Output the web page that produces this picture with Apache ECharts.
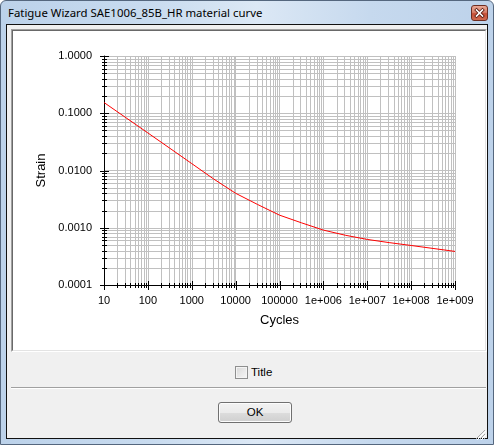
<!DOCTYPE html>
<html><head><meta charset="utf-8">
<script src="https://cdn.jsdelivr.net/npm/echarts@6/dist/echarts.min.js"></script>
<style>
html,body{margin:0;padding:0;width:494px;height:445px;overflow:hidden;background:#fff;}
.abs{position:absolute;box-sizing:border-box;}
#win{left:0;top:0;width:494px;height:445px;border:1px solid #55677e;border-radius:6px 6px 0 0;
 background:linear-gradient(to right,#bcd2ea 0%,#c8dbef 30%,#dce8f5 52%,#c6d9ee 75%,#bdd2ea 100%);}
#title{left:8px;top:4px;font-family:"Noto Sans",sans-serif;font-size:11.4px;line-height:17px;color:#000;white-space:nowrap;}
#close{left:471px;top:5px;width:17px;height:16px;border:1px solid #6e2d21;border-radius:3px;
 background:linear-gradient(#e9a896 0%,#d7816b 45%,#c54e35 55%,#cf6a50 100%);}
#client{left:6px;top:24px;width:482px;height:415px;border:1px solid #111;background:#f0f0f0;}
#panel{left:11px;top:29px;width:476px;height:323px;border-top:1px solid #a0a0a0;border-left:1px solid #a0a0a0;border-right:1px solid #fff;border-bottom:1px solid #fff;}
#panelIn{left:0;top:0;width:100%;height:100%;border-top:1px solid #696969;border-left:1px solid #696969;border-right:1px solid #e3e3e3;border-bottom:1px solid #e3e3e3;background:#fff;}
#sep{left:11px;top:387px;width:475px;height:2px;border-top:1px solid #a0a0a0;border-bottom:1px solid #fff;}
#chk{left:235px;top:366px;width:13px;height:13px;border:1px solid #8e8f8f;background:linear-gradient(135deg,#d8d8d8,#f7f7f7);box-shadow:inset 0 0 0 1px #f4f4f4;}
#chklbl{left:251px;top:365px;font-family:"Liberation Sans",Arial,sans-serif;font-size:11.5px;line-height:14px;color:#000;}
#ok{left:218px;top:402px;width:74px;height:21px;border:1px solid #707070;border-radius:3px;
 background:linear-gradient(#f2f2f2 0%,#ebebeb 50%,#dddddd 50%,#cfcfcf 100%);box-shadow:inset 0 0 0 1px #fcfcfc;
 font-family:"Liberation Sans",Arial,sans-serif;font-size:11.5px;line-height:19px;text-align:center;color:#000;}
#grip{left:474px;top:426px;width:12px;height:12px;}
#chart{left:0;top:0;width:494px;height:445px;}
</style></head>
<body>
<div id="win" class="abs"></div>
<div id="title" class="abs">Fatigue Wizard SAE1006_85B_HR material curve</div>
<div id="close" class="abs"><svg width="15" height="14" style="position:absolute;left:0;top:0"><path d="M4.5 4 L10.5 10 M10.5 4 L4.5 10" stroke="#5a1a10" stroke-width="3.2" stroke-linecap="square"/><path d="M4.5 4 L10.5 10 M10.5 4 L4.5 10" stroke="#fff" stroke-width="1.6" stroke-linecap="square"/></svg></div>
<div id="client" class="abs"></div>
<div id="panel" class="abs"><div id="panelIn" class="abs"></div></div>
<div id="sep" class="abs"></div>
<div id="chk" class="abs"></div>
<div id="chklbl" class="abs">Title</div>
<div id="ok" class="abs">OK</div>
<div id="grip" class="abs"><svg width="12" height="12"><path d="M11 2 L2 11 M11 6 L6 11 M11 10 L10 11" stroke="#a8a8a8" stroke-width="1"/><path d="M12 3 L3 12 M12 7 L7 12" stroke="#fff" stroke-width="1"/></svg></div>
<div id="chart" class="abs"></div>
<script>
// ---- data ----
const cycles = [10, 31.6, 100, 316, 1000, 3162, 10000, 31623, 100000, 316228, 1000000, 3162278, 10000000, 31622777, 100000000, 316227766, 1000000000];
const strain = [0.154, 0.0836, 0.0453, 0.0245, 0.0132, 0.0071, 0.0040, 0.00255, 0.00166, 0.00122, 0.00091, 0.00074, 0.000625, 0.00055, 0.00049, 0.000435, 0.000386];
const xTickLabels = ['10', '100', '1000', '10000', '100000', '1e+006', '1e+007', '1e+008', '1e+009'];
const yTickLabels = ['0.0001', '0.0010', '0.0100', '0.1000', '1.0000'];
const minorSteps = [2, 3, 4, 5, 6, 7, 8, 9];

const xTicks = xTickLabels.map(Number);
const yTicks = yTickLabels.map(Number);
const X_MIN = xTicks[0], X_MAX = xTicks[xTicks.length - 1];
const Y_MIN = yTicks[0], Y_MAX = yTicks[yTicks.length - 1];

function expOf(v) { return Math.round(Math.log10(v)); }
function xLabel(v) { const e = expOf(v); const i = xTicks.findIndex(t => expOf(t) === e); return i >= 0 ? xTickLabels[i] : ''; }
function yLabel(v) { const e = expOf(v); const i = yTicks.findIndex(t => expOf(t) === e); return i >= 0 ? yTickLabels[i] : ''; }

// minor grid lines (kind 0 = vertical, 1 = horizontal)
const minorGrid = [];
for (let i = 0; i < xTicks.length - 1; i++) minorSteps.forEach(k => minorGrid.push([k * xTicks[i], Y_MIN, 0]));
for (let i = 0; i < yTicks.length - 1; i++) minorSteps.forEach(k => minorGrid.push([X_MIN, k * yTicks[i], 1]));
// ticks (0 x major, 1 x minor, 2 y major, 3 y minor)
const ticks = [];
xTicks.forEach(t => ticks.push([t, Y_MIN, 0]));
for (let i = 0; i < xTicks.length - 1; i++) minorSteps.forEach(k => ticks.push([k * xTicks[i], Y_MIN, 1]));
yTicks.forEach(t => ticks.push([X_MIN, t, 2]));
for (let i = 0; i < yTicks.length - 1; i++) minorSteps.forEach(k => ticks.push([X_MIN, k * yTicks[i], 3]));

const chart = echarts.init(document.getElementById('chart'), null, { renderer: 'canvas' });
const font = '"Liberation Sans", Arial, sans-serif';

function renderMinor(params, api) {
  const cs = params.coordSys;
  const p = api.coord([api.value(0), api.value(1)]);
  if (api.value(2) === 0) {
    const x = Math.round(p[0]) + 0.5;
    return { type: 'line', silent: true, shape: { x1: x, y1: cs.y, x2: x, y2: cs.y + cs.height }, style: { stroke: '#c0c0c0', lineWidth: 1 } };
  }
  const y = Math.round(p[1]) + 0.5;
  return { type: 'line', silent: true, shape: { x1: cs.x + 1, y1: y, x2: cs.x + cs.width, y2: y }, style: { stroke: '#c0c0c0', lineWidth: 1 } };
}
function renderTick(params, api) {
  const cs = params.coordSys;
  const kind = api.value(2);
  const p = api.coord([api.value(0), api.value(1)]);
  const len = (kind === 0 || kind === 2) ? 4 : 2;
  if (kind < 2) {
    const x = Math.round(p[0]) + 0.5; const y0 = Math.round(cs.y + cs.height);
    return { type: 'line', silent: true, shape: { x1: x, y1: y0 - len, x2: x, y2: y0 + len + 1 }, style: { stroke: '#000', lineWidth: 1 } };
  }
  const y = Math.round(p[1]) + 0.5; const x0 = Math.round(cs.x);
  return { type: 'line', silent: true, shape: { x1: x0 - len, y1: y, x2: x0 + len + 1, y2: y }, style: { stroke: '#000', lineWidth: 1 } };
}

chart.setOption({
  animation: false,
  backgroundColor: 'transparent',
  grid: { left: 104, top: 56, width: 351, height: 229, containLabel: false, outerBoundsMode: 'none' },
  xAxis: {
    type: 'log', logBase: 10, min: X_MIN, max: X_MAX, z: 2,
    name: 'Cycles', nameLocation: 'middle', nameGap: 29,
    nameTextStyle: { fontFamily: font, fontSize: 13, color: '#000' },
    axisLine: { show: true, lineStyle: { color: '#000', width: 1 } },
    axisTick: { show: false },
    axisLabel: { fontFamily: font, fontSize: 11, color: '#000', margin: 10, formatter: xLabel, showMinLabel: true, showMaxLabel: true },
    splitLine: { show: true, showMinLine: false, lineStyle: { color: '#c0c0c0', width: 1 } }
  },
  yAxis: {
    type: 'log', logBase: 10, min: Y_MIN, max: Y_MAX, z: 2,
    name: 'Strain', nameLocation: 'middle', nameGap: 52,
    nameTextStyle: { fontFamily: font, fontSize: 13, color: '#000' },
    axisLine: { show: true, lineStyle: { color: '#000', width: 1 } },
    axisTick: { show: false },
    axisLabel: { fontFamily: font, fontSize: 11, color: '#000', margin: 12, formatter: yLabel, showMinLabel: true, showMaxLabel: true },
    splitLine: { show: true, showMinLine: false, lineStyle: { color: '#c0c0c0', width: 1 } }
  },
  series: [
    { type: 'custom', name: 'minorGrid', z: 1, silent: true, renderItem: renderMinor, data: minorGrid, encode: { x: 0, y: 1 } },
    { type: 'line', name: 'Strain', z: 3, data: cycles.map((c, i) => [c, strain[i]]), showSymbol: false, symbol: 'none',
      lineStyle: { color: '#ff0000', width: 1 }, itemStyle: { color: '#ff0000' } },
    { type: 'custom', name: 'ticks', z: 4, silent: true, renderItem: renderTick, data: ticks, encode: { x: 0, y: 1 } }
  ]
});
</script>
</body></html>
